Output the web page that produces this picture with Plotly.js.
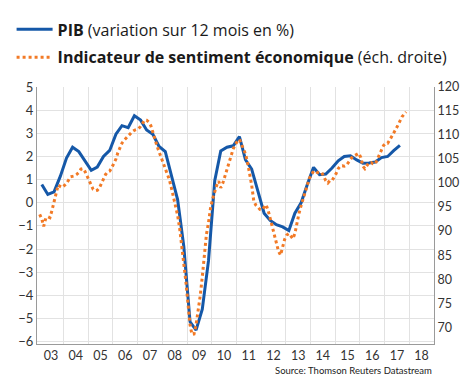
<!DOCTYPE html>
<html><head><meta charset="utf-8">
<script src="https://cdn.plot.ly/plotly-3.0.1.min.js"></script>
<style>html,body{margin:0;padding:0;background:#fff}#chart{width:470px;height:392px}</style>
</head><body><div id="chart"></div>
<script>
// GDP (PIB), year-on-year %, quarterly, 2003Q1 - 2017Q3
const pibStartYear = 2003;
const pibValues = [
  0.79, 0.36, 0.47, 1.14,
  1.93, 2.40, 2.21, 1.79,
  1.40, 1.54, 2.00, 2.26,
  2.96, 3.33, 3.24, 3.76,
  3.57, 3.14, 2.96, 2.43,
  2.21, 1.18, 0.14, -1.90,
  -5.14, -5.50, -4.60, -2.50,
  0.95, 2.24, 2.40, 2.46,
  2.86, 1.86, 1.45, 0.50,
  -0.45, -0.76, -0.95, -1.04,
  -1.20, -0.45, 0.00, 0.79,
  1.53, 1.21, 1.24, 1.50,
  1.81, 2.00, 2.03, 1.85,
  1.71, 1.72, 1.76, 1.95,
  2.00, 2.25, 2.48
];
const quarterMidMonths = ["02", "05", "08", "11"];

// Economic sentiment indicator, monthly, Jan 2003 - Nov 2017 (right scale)
const esiStartYear = 2003;
const esiValues = [
  93.5, 92.5, 91.0, 92.7, 93.0, 92.8, 94.3, 96.3, 98.3, 99.6, 99.3, 99.1,
  99.5, 99.9, 100.6, 101.3, 101.4, 101.5, 101.8, 102.2, 102.9, 103.0, 102.4, 101.5,
  100.3, 99.3, 98.7, 98.4, 98.5, 99.0, 99.9, 100.8, 101.8, 102.3, 102.5, 103.2,
  104.1, 105.0, 106.3, 107.5, 108.3, 108.9, 109.4, 109.9, 110.3, 110.7, 111.0, 111.1,
  111.3, 111.8, 112.5, 113.1, 113.1, 112.7, 112.0, 110.8, 109.2, 107.7, 106.4, 105.2,
  104.0, 103.0, 101.9, 100.7, 99.0, 97.1, 95.2, 93.3, 90.5, 87.0, 83.5, 79.5,
  75.0, 70.5, 68.5, 68.6, 70.5, 73.5, 76.5, 80.5, 85.5, 89.3, 91.8, 94.8,
  96.7, 98.2, 99.5, 100.4, 99.0, 100.0, 101.5, 102.8, 104.5, 105.9, 107.1, 108.0,
  108.7, 109.1, 108.2, 107.2, 106.1, 104.3, 102.3, 99.6, 96.3, 95.4, 95.0, 94.5,
  94.4, 95.1, 95.5, 94.3, 92.6, 90.8, 89.4, 87.3, 85.8, 85.0, 86.5, 88.3,
  89.2, 89.5, 89.0, 88.4, 89.5, 91.8, 93.7, 95.3, 96.8, 98.5, 99.9, 101.0,
  101.7, 102.5, 102.5, 102.2, 102.1, 102.2, 101.4, 100.5, 100.0, 100.5, 100.5, 101.2,
  102.0, 103.0, 103.5, 103.6, 103.5, 103.7, 104.3, 105.0, 105.5, 105.7, 105.9, 106.2,
  105.3, 103.5, 103.0, 103.8, 104.3, 104.3, 104.0, 104.0, 105.0, 106.2, 107.1, 107.8,
  108.3, 108.3, 108.9, 109.6, 110.3, 111.2, 112.0, 112.9, 113.8, 114.3, 114.8
];

// Axis labels
const xTickYears = [2003, 2004, 2005, 2006, 2007, 2008, 2009, 2010, 2011, 2012, 2013, 2014, 2015, 2016, 2017, 2018];
const xTickLabels = ["03", "04", "05", "06", "07", "08", "09", "10", "11", "12", "13", "14", "15", "16", "17", "18"];
const leftTicks = [-6, -5, -4, -3, -2, -1, 0, 1, 2, 3, 4, 5];
const rightTicks = [70, 75, 80, 85, 90, 95, 100, 105, 110, 115, 120];

const pad = n => (n < 10 ? "0" : "") + n;
const pibDates = pibValues.map((v, i) => (pibStartYear + Math.floor(i / 4)) + "-" + quarterMidMonths[i % 4] + "-15");
const esiDates = esiValues.map((v, i) => (esiStartYear + Math.floor(i / 12)) + "-" + pad(i % 12 + 1) + "-15");
const tickVals = xTickYears.map(y => y + "-07-02");
const gridVals = xTickYears.slice(1).map(y => y + "-01-01");

const traces = [
  {
    x: pibDates, y: pibValues, type: "scatter", mode: "lines",
    name: "<b>PIB</b> (variation sur 12 mois en %)",
    line: {color: "#1558a8", width: 3}, legendgroup: "a", yaxis: "y"
  },
  {
    x: esiDates, y: esiValues, type: "scatter", mode: "lines",
    name: "<b>Indicateur de sentiment économique</b> (éch. droite)",
    line: {color: "#f27a26", width: 3, dash: "dot"}, legendgroup: "b", yaxis: "y2"
  }
];

const layout = {
  width: 470, height: 392,
  margin: {l: 27, r: 36, t: 85, b: 48},
  paper_bgcolor: "#ffffff", plot_bgcolor: "#ffffff",
  font: {family: "Lato, 'Open Sans', sans-serif", color: "#333", size: 12},
  showlegend: true,
  legend: {
    x: -0.064, y: 1.29, xanchor: "left", yanchor: "top",
    font: {family: "'Open Sans', sans-serif", size: 16, color: "#1a1a1a"}, bgcolor: "rgba(0,0,0,0)",
    traceorder: "grouped", tracegroupgap: 4, itemwidth: 36
  },
  xaxis: {
    type: "date", range: ["2002-12-06", "2019-01-01"],
    tickmode: "array", tickvals: tickVals, ticktext: xTickLabels,
    showgrid: false, ticks: "", showline: true, linecolor: "#9a9a9a", linewidth: 1,
    zeroline: false, tickfont: {size: 12.5, color: "#333"},
    minor: {tickmode: "array", tickvals: gridVals, showgrid: true, gridcolor: "#e2e2e2", gridwidth: 1, ticks: ""}
  },
  yaxis: {
    range: [-6.1, 5], tickmode: "array", tickvals: leftTicks,
    showgrid: true, gridcolor: "#e2e2e2", gridwidth: 1, zeroline: false,
    showline: true, linecolor: "#9a9a9a", linewidth: 1, ticks: "",
    tickfont: {size: 13, color: "#333"}
  },
  yaxis2: {
    overlaying: "y", side: "right", range: [66.5, 120],
    tickmode: "array", tickvals: rightTicks,
    showgrid: false, zeroline: false, showline: true, linecolor: "#9a9a9a", linewidth: 1,
    ticks: "", tickfont: {size: 12.5, color: "#333"}
  },
  annotations: [{
    text: "Source: Thomson Reuters Datastream", xref: "paper", yref: "paper",
    x: 1, y: -0.104, xanchor: "right", yanchor: "middle", showarrow: false,
    font: {size: 9.5, color: "#222"}
  }]
};

Plotly.newPlot("chart", traces, layout, {staticPlot: true, displayModeBar: false});
</script>
</body></html>
